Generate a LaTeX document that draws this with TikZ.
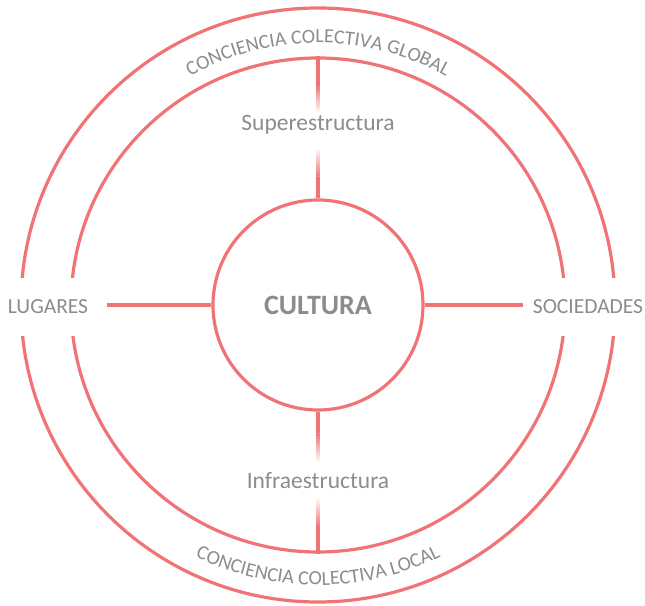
\documentclass[tikz,border=0pt]{standalone}
\usepackage{fontspec}
\setmainfont{Carlito}
\usetikzlibrary{positioning,calc,decorations.text}
\definecolor{ringred}{HTML}{F07476}
\definecolor{textgray}{HTML}{8C8C8C}
\tikzset{
  ring/.style     = {circle, draw=ringred, line width=3.2pt, inner sep=0pt},
  link/.style     = {draw=ringred, line width=3.2pt},
  sidetext/.style = {text=textgray, fill=white, font=\fontsize{21.5}{25}\selectfont,
                     inner xsep=3pt, inner ysep=0pt, minimum height=58pt},
  layer/.style    = {text=textgray, font=\fontsize{23.5}{27}\selectfont, inner sep=0pt},
  core/.style     = {ring, text=textgray, font=\fontsize{28}{32}\selectfont\bfseries}
}
\newcommand{\ringfont}{\fontsize{20}{24}\selectfont}

\begin{document}
\begin{tikzpicture}[x=1pt, y=1pt]
\useasboundingbox (-318,-300) rectangle (327,305);

% the rings
\node[ring, minimum size=594pt] (outer) at (0,0) {};
\node[ring, minimum size=494pt] (mid) at (0,0) {};
\node[core, minimum size=210pt] (cultura) at (0,0) {CULTURA};

% texts along the ring
\path[decorate, decoration={text along path, text align=center,
  text color=textgray, text={|\ringfont|CONCIENCIA COLECTIVA GLOBAL}}]
  (150:262) arc (150:30:262);
\path[decorate, decoration={text along path, text align=center,
  text color=textgray, text={|\ringfont|CONCIENCIA COLECTIVA LOCAL}}]
  (210:280) arc (210:330:280);

% side labels, cutting through the outer ring
\node[sidetext] (lugares) at (-270,-2) {LUGARES};
\node[sidetext] (sociedades) at (270,-2) {SOCIEDADES};
\coordinate (lug end) at (-211,0);
\coordinate (soc end) at (205,0);
\draw[link] (lug end) -- (cultura.west);
\draw[link] (cultura.east) -- (soc end);

% upper connector, faded round its label
\node[layer] (super) at (0,180) {Superestructura};
\coordinate (sup a) at (0,220);
\coordinate (sup b) at (0,192);
\coordinate (sup c) at (0,158);
\coordinate (sup d) at (0,128);
\draw[link] (mid.north) -- (sup a);
\shade[top color=ringred, bottom color=white] ($(sup a)+(-1.6,0)$) rectangle ($(sup b)+(1.6,0)$);
\shade[top color=white, bottom color=ringred] ($(sup c)+(-1.6,0)$) rectangle ($(sup d)+(1.6,0)$);
\draw[link] (sup d) -- (cultura.north);

% lower connector, faded round its label
\node[layer] (infra) at (0,-176) {Infraestructura};
\coordinate (inf a) at (0,-128);
\coordinate (inf b) at (0,-158);
\coordinate (inf c) at (0,-192);
\coordinate (inf d) at (0,-222);
\draw[link] (cultura.south) -- (inf a);
\shade[top color=ringred, bottom color=white] ($(inf a)+(-1.6,0)$) rectangle ($(inf b)+(1.6,0)$);
\shade[top color=white, bottom color=ringred] ($(inf c)+(-1.6,0)$) rectangle ($(inf d)+(1.6,0)$);
\draw[link] (inf d) -- (mid.south);
\end{tikzpicture}
\end{document}
